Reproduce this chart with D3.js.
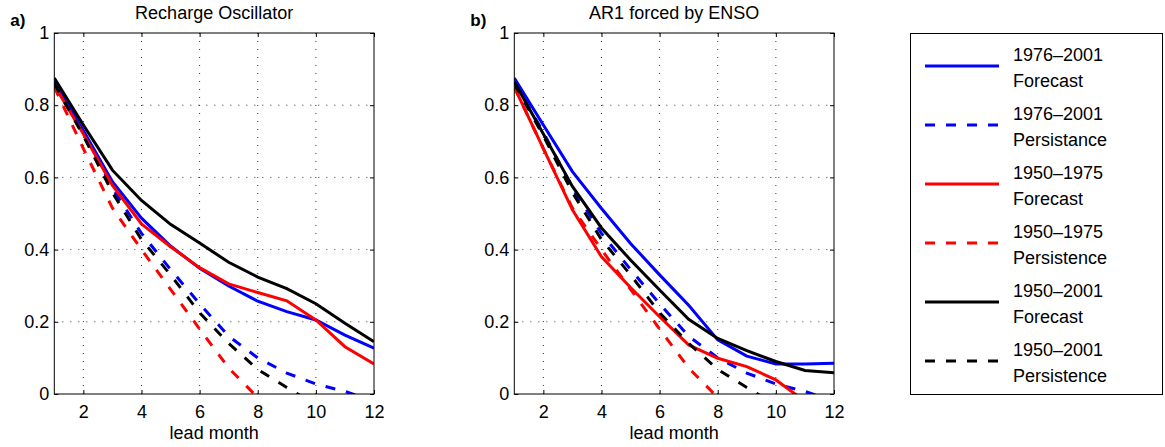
<!DOCTYPE html>
<html>
<head>
<meta charset="utf-8">
<script src="https://cdn.jsdelivr.net/npm/d3@7"></script>
<style>
  body { margin: 0; background: #fff; }
  svg { display: block; font-family: "Liberation Sans", Arial, Helvetica, sans-serif; }
</style>
</head>
<body>
<div id="chart"></div>
<script>
// lead months and ticks
const months = [1, 2, 3, 4, 5, 6, 7, 8, 9, 10, 11, 12];
const xTicks = [2, 4, 6, 8, 10, 12];
const yTicks = [0, 0.2, 0.4, 0.6, 0.8, 1];
const yTickLabels = ["0", "0.2", "0.4", "0.6", "0.8", "1"];
const gridX = [2, 4, 6, 8, 10];
const gridY = [0.2, 0.4, 0.6, 0.8];

// a) Recharge Oscillator forecast skill
const roFcst7601 = [0.865, 0.73, 0.588, 0.487, 0.41, 0.348, 0.299, 0.257, 0.228, 0.205, 0.163, 0.127];
const roFcst5075 = [0.855, 0.72, 0.578, 0.471, 0.408, 0.35, 0.305, 0.281, 0.258, 0.205, 0.131, 0.083];
const roFcst5001 = [0.875, 0.745, 0.62, 0.536, 0.47, 0.418, 0.365, 0.324, 0.292, 0.25, 0.196, 0.145];

// b) AR1 forced by ENSO forecast skill
const arFcst7601 = [0.875, 0.745, 0.616, 0.514, 0.417, 0.33, 0.246, 0.15, 0.105, 0.083, 0.083, 0.085];
const arFcst5075 = [0.85, 0.68, 0.51, 0.38, 0.295, 0.214, 0.136, 0.099, 0.076, 0.039, -0.02, -0.05];
const arFcst5001 = [0.865, 0.72, 0.575, 0.46, 0.371, 0.288, 0.207, 0.154, 0.12, 0.09, 0.065, 0.059];

// persistence (same in both panels)
const pers7601 = [0.865, 0.725, 0.57, 0.445, 0.345, 0.25, 0.16, 0.1, 0.058, 0.028, 0.007, -0.02];
const pers5075 = [0.85, 0.68, 0.515, 0.4, 0.29, 0.18, 0.072, -0.01, -0.05, -0.08, -0.1, -0.12];
const pers5001 = [0.86, 0.715, 0.558, 0.428, 0.33, 0.225, 0.14, 0.068, 0.018, -0.03, -0.07, -0.1];

const legendLabels = [
    ["1976\u20132001", "Forecast"],
    ["1976\u20132001", "Persistance"],
    ["1950\u20131975", "Forecast"],
    ["1950\u20131975", "Persistence"],
    ["1950\u20132001", "Forecast"],
    ["1950\u20132001", "Persistence"]
];
const colors = ["#0000ff", "#0000ff", "#ff0000", "#ff0000", "#000000", "#000000"];
const dashed = [false, true, false, true, false, true];

const panels = [
    {id: "a", letter: "a)", title: "Recharge Oscillator", left: 54.3,
     series: [roFcst7601, pers7601, roFcst5075, pers5075, roFcst5001, pers5001]},
    {id: "b", letter: "b)", title: "AR1 forced by ENSO", left: 514.3,
     series: [arFcst7601, pers7601, arFcst5075, pers5075, arFcst5001, pers5001]}
];

const width = 1165, height = 447;
const plotTop = 33, plotBottom = 394, plotW = 319.7;
const dashPattern = "10,11";

const svg = d3.select("#chart").append("svg")
    .attr("width", width).attr("height", height);

const defs = svg.append("defs");

panels.forEach(p => {
    const x = d3.scaleLinear().domain([1, 12]).range([p.left, p.left + plotW]);
    const y = d3.scaleLinear().domain([0, 1]).range([plotBottom, plotTop]);

    defs.append("clipPath").attr("id", "clip-" + p.id)
        .append("rect")
        .attr("x", x(1)).attr("y", y(1))
        .attr("width", x(12) - x(1)).attr("height", y(0) - y(1));

    const g = svg.append("g");

    // dotted grid
    g.selectAll(".gx").data(gridX).join("line")
        .attr("class", "gx")
        .attr("x1", d => x(d)).attr("x2", d => x(d))
        .attr("y1", y(1)).attr("y2", y(0))
        .attr("stroke", "#333").attr("stroke-width", 1)
        .attr("stroke-dasharray", "1,7");
    g.selectAll(".gy").data(gridY).join("line")
        .attr("class", "gy")
        .attr("x1", x(1)).attr("x2", x(12))
        .attr("y1", d => y(d)).attr("y2", d => y(d))
        .attr("stroke", "#333").attr("stroke-width", 1)
        .attr("stroke-dasharray", "1,7");

    // lines
    const line = d3.line().x((d, i) => x(months[i])).y(d => y(d));
    const lg = g.append("g").attr("clip-path", `url(#clip-${p.id})`);
    p.series.forEach((s, i) => {
        lg.append("path")
            .attr("d", line(s))
            .attr("fill", "none")
            .attr("stroke", colors[i])
            .attr("stroke-width", 3)
            .attr("stroke-dasharray", dashed[i] ? dashPattern : null);
    });

    // axes, matlab style ticks inside
    const fmt = d => yTickLabels[yTicks.indexOf(d)];
    g.append("g").attr("transform", `translate(0,${plotBottom})`)
        .call(d3.axisBottom(x).tickValues(xTicks).tickSizeInner(-4).tickSizeOuter(0).tickPadding(11));
    g.append("g").attr("transform", `translate(${x(1)},0)`)
        .call(d3.axisLeft(y).tickValues(yTicks).tickFormat(fmt).tickSizeInner(-4).tickSizeOuter(0).tickPadding(5));
    g.append("g").attr("transform", `translate(0,${plotTop})`)
        .call(d3.axisTop(x).tickValues(xTicks).tickFormat("").tickSizeInner(-4).tickSizeOuter(0));
    g.append("g").attr("transform", `translate(${x(12)},0)`)
        .call(d3.axisRight(y).tickValues(yTicks).tickFormat("").tickSizeInner(-4).tickSizeOuter(0));

    g.selectAll(".tick text").style("font-size", "18px").attr("fill", "#000")
        .style("font-family", "'Liberation Sans', Arial, sans-serif");
    g.selectAll(".tick line").attr("stroke", "#000");
    g.selectAll(".domain").attr("stroke", "none");

    g.append("rect")
        .attr("x", x(1)).attr("y", y(1))
        .attr("width", x(12) - x(1)).attr("height", y(0) - y(1))
        .attr("fill", "none").attr("stroke", "#000").attr("stroke-width", 1);

    // labels
    g.append("text")
        .attr("x", (x(1) + x(12)) / 2).attr("y", 19)
        .attr("text-anchor", "middle").style("font-size", "18px")
        .text(p.title);
    g.append("text")
        .attr("x", (x(1) + x(12)) / 2).attr("y", 439)
        .attr("text-anchor", "middle").style("font-size", "18px")
        .text("lead month");
    g.append("text")
        .attr("x", p.left - 44).attr("y", 26)
        .style("font-size", "17px").style("font-weight", "bold")
        .text(p.letter);
});

// legend
const legend = svg.append("g");
legend.append("rect")
    .attr("x", 910.5).attr("y", 33.5)
    .attr("width", 252).attr("height", 361)
    .attr("fill", "#fff").attr("stroke", "#000").attr("stroke-width", 1);

legendLabels.forEach((lab, i) => {
    const ly = 66 + i * 59;
    legend.append("line")
        .attr("x1", 925).attr("x2", 999)
        .attr("y1", ly).attr("y2", ly)
        .attr("stroke", colors[i]).attr("stroke-width", 3)
        .attr("stroke-dasharray", dashed[i] ? dashPattern : null);
    legend.append("text")
        .attr("x", 1013).attr("y", ly - 5)
        .style("font-size", "18px").text(lab[0]);
    legend.append("text")
        .attr("x", 1013).attr("y", ly + 21)
        .style("font-size", "18px").text(lab[1]);
});
</script>
</body>
</html>
